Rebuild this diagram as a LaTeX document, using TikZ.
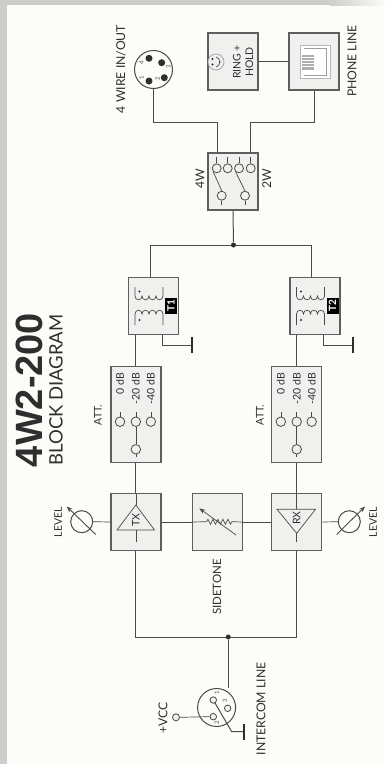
\documentclass[tikz,border=0pt]{standalone}
\usepackage{fontspec}
\setmainfont{Lato}
\newfontfamily\titrefont{Liberation Sans}
\usetikzlibrary{arrows.meta,decorations.pathmorphing}
\definecolor{papier}{HTML}{FCFDF8}
\definecolor{bande}{HTML}{CDCDCB}
\definecolor{bord}{HTML}{5E5E5E}
\definecolor{fond}{HTML}{F0F0EE}
\definecolor{trait}{HTML}{4A4A48}
\definecolor{texte}{HTML}{2E2E2E}
\tikzset{
  bloc/.style={draw=bord,line width=1.3pt,fill=fond,minimum width=50pt,inner sep=0pt},
  ligne/.style={draw=trait,line width=1pt},
  fin/.style={draw=trait,line width=0.7pt},
  masse/.style={draw=texte,line width=2pt},
  etiq/.style={rotate=90,inner sep=0pt,text=texte,font=\fontsize{12.2}{14}\selectfont},
  etiqc/.style={rotate=90,inner sep=0pt,text=texte,font=\fontsize{10.5}{12}\selectfont},
  petit/.style={rotate=90,inner sep=0pt,text=texte,font=\fontsize{10.5}{11.5}\selectfont},
  borne/.style={circle,draw=trait,line width=0.8pt,fill=fond,minimum size=9pt,inner sep=0pt},
  point/.style={circle,fill=texte,minimum size=5pt,inner sep=0pt},
  plot4/.style={circle,fill=texte,minimum size=7pt,inner sep=0pt},
  rond/.style={circle,draw=trait,line width=1pt,fill=papier,inner sep=0pt},
  chiffre/.style={rotate=90,inner sep=0pt,text=trait,font=\fontsize{6}{6}\selectfont},
  fleche/.style={draw=trait,line width=0.9pt,-{Stealth[length=6pt,width=4.5pt]}}
}
\begin{document}
\begin{tikzpicture}[x=1pt,y=-1pt]
    \useasboundingbox (0,0) rectangle (385,764);
    % fond
    \fill[papier] (0,0) rectangle (385,764);
    \fill[bande] (0,0) rectangle (7,764);
    \fill[bande] (0,0) rectangle (330,5);
    \shade[left color=bande,right color=papier] (330,0) rectangle (385,5);

    % titre
    \node[rotate=90,inner sep=0pt,text=texte] (titre) at (29,390) {\titrefont\bfseries\fontsize{38}{40}\selectfont 4W2-200};
    \node[rotate=90,inner sep=0pt,text=texte] (soustitre) at (56,390) {\fontsize{18.5}{20}\selectfont BLOCK DIAGRAM};

    % blocs
    \node[bloc,minimum height=57pt] (ring) at (233,61.5) {};
    \node[bloc,minimum height=57pt] (phone) at (314,61.5) {};
    \node[bloc,minimum height=57pt] (switch) at (233,181.5) {};
    \node[bloc,minimum height=57pt] (t1) at (153.5,306.3) {};
    \node[bloc,minimum height=57pt] (t2) at (315,306.3) {};
    \node[bloc,minimum height=96pt] (att1) at (135.85,414.7) {};
    \node[bloc,minimum height=96pt] (att2) at (296.7,414.7) {};
    \node[bloc,minimum height=57pt] (tx) at (135.85,522) {};
    \node[bloc,minimum height=57pt] (sidetone) at (217.5,522) {};
    \node[bloc,minimum height=57pt] (rx) at (296.7,522) {};

    % prises et cadrans
    \node[rond,minimum size=38pt] (wire) at (153.5,69.5) {};
    \node[rond,minimum size=38pt] (xlr) at (216.6,707.5) {};
    \node[rond,minimum size=22pt] (lvltx) at (81.7,521.7) {};
    \node[rond,minimum size=22pt] (lvlrx) at (349.3,521.7) {};
    \node[borne,minimum size=7pt] (vcc) at (176,717.3) {};

    % liaisons
    \coordinate (coudeg) at (217,122);
    \coordinate (couded) at (250,122);
    \node[point] (jhaut) at (233.5,245) {};
    \node[point] (jbas) at (228.3,637) {};
    \coordinate (gt1) at (191.5,345);
    \coordinate (gt2) at (352.7,345);
    \coordinate (gxlr) at (244.3,731.7);
    \draw[ligne] (wire.south) |- (coudeg) -- (coudeg |- switch.north);
    \draw[ligne] (phone.south) |- (couded) -- (couded |- switch.north);
    \draw[ligne] (ring.east) -- (phone.west);
    \draw[ligne] (switch.south) -- (jhaut);
    \draw[ligne] (jhaut) -| ([xshift=-3.5pt]t1.north);
    \draw[ligne] (jhaut) -| ([xshift=-3.3pt]t2.north);
    \draw[ligne] ([xshift=-17.65pt]t1.south) -- (att1.north);
    \draw[ligne] ([xshift=-18.3pt]t2.south) -- (att2.north);
    \draw[ligne] ([xshift=8.5pt]t1.south) |- (gt1);
    \draw[ligne] ([xshift=8pt]t2.south) |- (gt2);
    \draw[masse] ([yshift=-8pt]gt1) -- ([yshift=8pt]gt1);
    \draw[masse] ([yshift=-8pt]gt2) -- ([yshift=8pt]gt2);
    \draw[ligne] (att1.south) -- (tx.north);
    \draw[ligne] (att2.south) -- (rx.north);
    \draw[fin] (lvltx.east) -- (tx.west);
    \draw[fin] (lvlrx.west) -- (rx.east);
    \draw[ligne] (tx.east) -- (sidetone.west);
    \draw[ligne] (sidetone.east) -- (rx.west);
    \draw[ligne] (tx.south) |- (jbas);
    \draw[ligne] (rx.south) |- (jbas);
    \draw[ligne] (jbas) -- (jbas |- xlr.north);

    % cadrans LEVEL
    \draw[fleche] (95.7,534.5) -- (66.7,506.5);
    \draw[fleche] (336.7,534.5) -- (365,506.5);
    \node[etiqc] (lvlg) at (58,522) {LEVEL};
    \node[etiqc] (lvld) at (373,522) {LEVEL};

    % RING + HOLD et prise tel.
    \node[rotate=90,inner sep=0pt,align=center,text=texte,font=\fontsize{10.5}{12.5}\selectfont] (ringtxt) at (243,62) {RING +\\HOLD};
    \node[circle,draw=bord!60,line width=0.7pt,fill=fond,minimum size=16pt,inner sep=0pt] (bell) at (216,62) {};
    \fill[texte] (212.5,59) circle (1.2pt) (212.5,64.5) circle (1.2pt);
    \draw[fin] (216,57) .. controls (221,58) and (221,66) .. (216,67) (219,62) -- (221,62);
    \node[draw=bord!45,line width=1pt,fill=white,minimum width=30pt,minimum height=33pt,inner sep=0pt] (jack) at (315,61.7) {};
    \fill[bord!50] (301.7,54.5) rectangle (313.5,70);
    \foreach \yy in {57,60,63,66} \draw[white,line width=0.5pt] (301.7,\yy) -- (313.5,\yy);
    \draw[bord!60,line width=0.6pt] (304,48) -- (326,48) -- (326,75) -- (304,75);

    % inverseur 4W/2W
    \foreach \nm/\xx in {sa/216.7,sb/227.7,sc/239,sd/250.7} {
      \node[borne] (\nm) at (\xx,168.3) {};
      \draw[fin] (\nm.north) -- (\xx,157);
    }
    \foreach \nm/\xx in {se/221.7,sf/245} {
      \node[borne] (\nm) at (\xx,195.7) {};
      \draw[fin] (\nm.south) -- (\xx,205);
    }
    \draw[fin] (sa.south west) -- (se.north);
    \draw[fin] (sc.south west) -- (sf.north);
    \node[etiq] (lab4w) at (200,179) {4W};
    \node[etiq] (lab2w) at (266.7,179) {2W};

    % transformateurs
    \foreach \nm/\cx/\lab in {t1/153.5/T1,t2/315/T2} {
      \draw[fin] (\cx-18.5,287) -- (\cx-18.5,296)
        .. controls (\cx-18.5,301) and (\cx-11.5,301) .. (\cx-11.5,296)
        .. controls (\cx-11.5,301) and (\cx-4.5,301) .. (\cx-4.5,296)
        .. controls (\cx-4.5,301) and (\cx+2.5,301) .. (\cx+2.5,296)
        .. controls (\cx+2.5,301) and (\cx+9.5,301) .. (\cx+9.5,296)
        -- (\cx+9.5,287);
      \draw[fin] (\cx-18.5,325) -- (\cx-18.5,314)
        .. controls (\cx-18.5,309) and (\cx-11.5,309) .. (\cx-11.5,314)
        .. controls (\cx-11.5,309) and (\cx-4.5,309) .. (\cx-4.5,314)
        .. controls (\cx-4.5,309) and (\cx+2.5,309) .. (\cx+2.5,314)
        .. controls (\cx+2.5,309) and (\cx+9.5,309) .. (\cx+9.5,314)
        -- (\cx+9.5,325);
      \fill[texte] (\cx-14,291.5) circle (1.2pt) (\cx-14,320) circle (1.2pt);
      \node[fill=black,text=white,rotate=90,minimum width=16pt,minimum height=12pt,inner sep=0pt,font=\bfseries\fontsize{10}{10}\selectfont] (lab\nm) at (\cx+17.5,305.5) {\lab};
    }

    % attenuateurs
    \foreach \nm/\cx/\ax in {att1/135.85/98,att2/296.7/260} {
      \foreach \pp/\dd/\txt in {a/-15.85/0 dB,b/0/-20 dB,c/15/-40 dB} {
        \node[borne,minimum size=9.5pt] (\nm\pp) at (\cx+\dd,421.7) {};
        \draw[fin] (\nm\pp.north) -- (\cx+\dd,411.7);
        \node[petit,anchor=east] (txt\nm\pp) at (\cx+\dd,373) {\txt};
      }
      \node[borne,minimum size=9.5pt] (\nm d) at (\cx,449.3) {};
      \draw[fin] (\nm d.north) -- (\nm b.south);
      \draw[fin] (\nm d.south) -- (\cx,457);
      \node[etiqc] (lab\nm) at (\ax,415) {ATT.};
    }

    % TX, RX, SIDETONE
    \draw[fin] (135.85,505) -- (117,530) -- (154.5,530) -- cycle;
    \draw[fin] (135.85,493.5) -- (135.85,505) (135.85,530) -- (135.85,541.7);
    \node[petit] (txtx) at (135.85,520) {TX};
    \draw[fin] (277,509.3) -- (315.5,509.3) -- (296.7,533.3) -- cycle;
    \draw[fin] (296.7,493.5) -- (296.7,509.3) (296.7,533.3) -- (296.7,541.7);
    \node[petit] (txrx) at (296.7,518) {RX};
    \draw[fin] (sidetone.west) -- (206.7,521.7);
    \draw[fin,decorate,decoration={zigzag,amplitude=2.5pt,segment length=5pt}] (206.7,521.7) -- (231.7,521.7);
    \draw[fin] (231.7,521.7) -- (sidetone.east);
    \draw[fleche,line width=0.7pt] (236,535) -- (199.3,508.3);
    \node[etiq,font=\fontsize{11.5}{13}\selectfont] (labside) at (217,587) {SIDETONE};

    % prise 4 fils
    \node[plot4] (p4) at (149,58.3) {};
    \node[plot4] (p3) at (161.7,62.7) {};
    \node[plot4] (p2) at (164.3,77.7) {};
    \node[plot4] (p1) at (149,81) {};
    \node[chiffre] (n4) at (141.5,63) {4};
    \node[chiffre] (n3) at (168.5,67) {3};
    \node[chiffre] (n2) at (157.5,78.5) {2};
    \node[chiffre] (n1) at (141.5,77.5) {1};
    \node[etiq] (labwire) at (121,69) {4 WIRE IN/OUT};
    \node[etiq] (labphone) at (352,61) {PHONE LINE};

    % prise intercom
    \node[borne,minimum size=6.5pt] (x3) at (227.7,708.3) {};
    \node[borne,minimum size=6.5pt] (x2) at (213.3,716.7) {};
    \node[chiffre] (n21) at (216.7,692.7) {1};
    \node[chiffre] (n23) at (225,700.7) {3};
    \node[chiffre] (n22) at (216.7,723) {2};
    \draw[fin] (vcc.east) -- (x2.west);
    \coordinate (coudex) at (231.7,731.7);
    \coordinate (depx) at (213.3,700);
    \draw[ligne] (depx) -- (coudex) -- (gxlr);
    \node[borne,minimum size=6.5pt] (x1) at (depx) {};
    \draw[masse] ([yshift=-8pt]gxlr) -- ([yshift=8pt]gxlr);
    \node[etiq] (labvcc) at (163,718) {+VCC};
    \node[etiq] (labintercom) at (261,709) {INTERCOM LINE};
\end{tikzpicture}
\end{document}
